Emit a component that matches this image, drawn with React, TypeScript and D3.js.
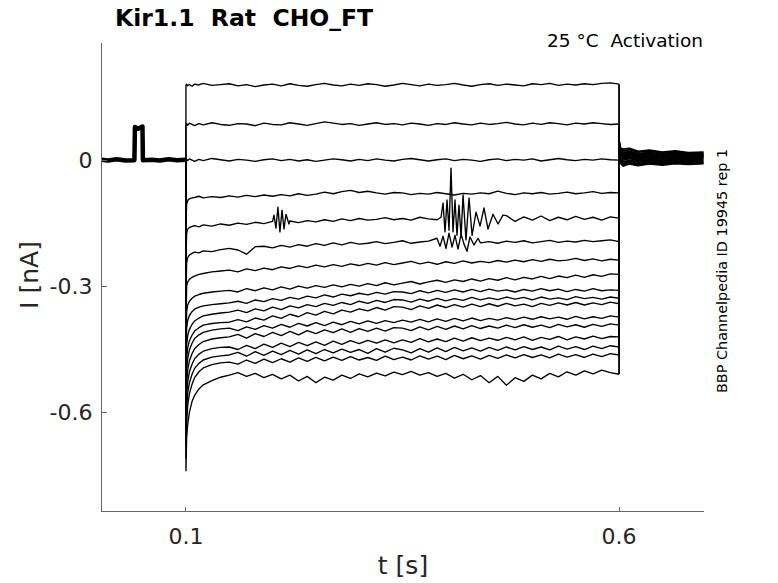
import * as d3 from "d3"

// sample times of the voltage step (s)
const stepT = [
  0.1, 0.1008, 0.102, 0.104, 0.107, 0.11, 0.115, 0.12, 0.13, 0.14,
  0.15, 0.16, 0.17, 0.18, 0.19, 0.2, 0.21, 0.22, 0.23, 0.24,
  0.25, 0.26, 0.27, 0.28, 0.29, 0.3, 0.31, 0.32, 0.33, 0.34,
  0.35, 0.36, 0.37, 0.38, 0.39, 0.4, 0.41, 0.42, 0.43, 0.44,
  0.45, 0.46, 0.47, 0.48, 0.49, 0.5, 0.51, 0.52, 0.53, 0.54,
  0.55, 0.56, 0.57, 0.58, 0.59, 0.6,
]

// currents during the step (nA), one array per sweep, top to bottom
const sweep1 = [0.178,0.181,0.177,0.180,0.176,0.181,0.179,0.183,0.178,0.180,0.182,0.177,0.180,0.175,0.179,0.181,0.177,0.182,0.178,0.176,0.180,0.183,0.179,0.177,0.181,0.178,0.182,0.180,0.176,0.179,0.183,0.180,0.177,0.181,0.178,0.180,0.183,0.179,0.176,0.180,0.182,0.178,0.181,0.179,0.177,0.182,0.180,0.183,0.178,0.181,0.179,0.182,0.180,0.183,0.184,0.181]
const sweep2 = [0.084,0.087,0.083,0.088,0.085,0.082,0.087,0.084,0.089,0.085,0.083,0.087,0.086,0.082,0.088,0.085,0.084,0.089,0.086,0.083,0.087,0.091,0.088,0.085,0.087,0.083,0.086,0.089,0.085,0.087,0.084,0.088,0.086,0.083,0.087,0.085,0.089,0.086,0.084,0.088,0.085,0.087,0.090,0.086,0.084,0.088,0.085,0.089,0.087,0.084,0.088,0.086,0.089,0.087,0.085,0.086]
const sweep3 = [-0.002,0.002,-0.001,0.003,0.000,-0.003,0.002,-0.001,0.004,0.001,-0.002,0.002,0.000,-0.003,0.001,0.003,-0.001,0.002,-0.002,0.001,-0.003,0.000,0.003,0.001,-0.002,0.002,-0.001,0.003,0.000,-0.002,0.002,0.004,0.001,-0.002,0.001,0.003,-0.001,0.002,0.000,-0.003,0.001,0.003,-0.001,0.002,0.000,0.003,-0.002,0.001,0.004,0.001,-0.001,0.002,0.000,0.003,0.001,0.000]
const sweep4 = [-0.150,-0.105,-0.096,-0.092,-0.090,-0.089,-0.086,-0.090,-0.087,-0.089,-0.085,-0.088,-0.084,-0.087,-0.083,-0.086,-0.082,-0.085,-0.080,-0.084,-0.081,-0.076,-0.080,-0.075,-0.072,-0.077,-0.074,-0.078,-0.081,-0.077,-0.078,-0.082,-0.079,-0.081,-0.077,-0.080,-0.083,-0.079,-0.081,-0.078,-0.080,-0.074,-0.079,-0.082,-0.078,-0.080,-0.077,-0.081,-0.079,-0.076,-0.080,-0.078,-0.075,-0.079,-0.077,-0.078]
const sweep5 = [-0.240,-0.175,-0.165,-0.160,-0.158,-0.156,-0.159,-0.154,-0.157,-0.152,-0.155,-0.150,-0.153,-0.148,-0.151,-0.146,-0.150,-0.145,-0.149,-0.144,-0.147,-0.142,-0.146,-0.140,-0.144,-0.139,-0.143,-0.141,-0.137,-0.142,-0.139,-0.143,-0.136,-0.140,-0.142,-0.138,-0.141,-0.136,-0.143,-0.138,-0.134,-0.145,-0.132,-0.146,-0.135,-0.143,-0.133,-0.144,-0.136,-0.142,-0.134,-0.141,-0.136,-0.143,-0.135,-0.138]
const sweep6 = [-0.320,-0.245,-0.232,-0.226,-0.222,-0.219,-0.221,-0.216,-0.218,-0.213,-0.210,-0.214,-0.224,-0.206,-0.205,-0.209,-0.203,-0.207,-0.201,-0.205,-0.199,-0.203,-0.197,-0.202,-0.196,-0.200,-0.198,-0.194,-0.199,-0.196,-0.192,-0.198,-0.195,-0.193,-0.197,-0.194,-0.199,-0.195,-0.192,-0.197,-0.194,-0.198,-0.193,-0.196,-0.192,-0.197,-0.194,-0.191,-0.196,-0.193,-0.195,-0.191,-0.194,-0.192,-0.190,-0.194]
const sweep7 = [-0.400,-0.300,-0.290,-0.284,-0.279,-0.276,-0.272,-0.270,-0.266,-0.264,-0.262,-0.266,-0.259,-0.263,-0.257,-0.261,-0.254,-0.258,-0.252,-0.256,-0.250,-0.254,-0.249,-0.253,-0.247,-0.251,-0.246,-0.250,-0.244,-0.249,-0.245,-0.241,-0.247,-0.243,-0.248,-0.242,-0.246,-0.240,-0.245,-0.241,-0.244,-0.239,-0.243,-0.238,-0.242,-0.237,-0.241,-0.236,-0.240,-0.238,-0.234,-0.239,-0.235,-0.240,-0.236,-0.238]
const sweep8 = [-0.460,-0.360,-0.345,-0.336,-0.329,-0.324,-0.320,-0.317,-0.314,-0.312,-0.310,-0.314,-0.306,-0.311,-0.304,-0.309,-0.302,-0.307,-0.300,-0.305,-0.299,-0.303,-0.297,-0.302,-0.296,-0.300,-0.294,-0.299,-0.292,-0.297,-0.293,-0.289,-0.295,-0.290,-0.286,-0.291,-0.285,-0.289,-0.283,-0.288,-0.282,-0.286,-0.280,-0.285,-0.279,-0.283,-0.277,-0.282,-0.276,-0.280,-0.274,-0.279,-0.273,-0.277,-0.271,-0.272]
const sweep9 = [-0.500,-0.400,-0.382,-0.370,-0.361,-0.355,-0.350,-0.347,-0.344,-0.342,-0.340,-0.336,-0.341,-0.333,-0.337,-0.330,-0.334,-0.327,-0.331,-0.324,-0.328,-0.321,-0.326,-0.319,-0.323,-0.317,-0.321,-0.315,-0.319,-0.313,-0.314,-0.318,-0.311,-0.316,-0.310,-0.315,-0.309,-0.314,-0.308,-0.313,-0.307,-0.312,-0.309,-0.314,-0.308,-0.312,-0.306,-0.311,-0.307,-0.313,-0.308,-0.312,-0.306,-0.311,-0.309,-0.310]
const sweep10 = [-0.540,-0.440,-0.418,-0.403,-0.391,-0.383,-0.376,-0.371,-0.367,-0.364,-0.362,-0.357,-0.363,-0.354,-0.359,-0.350,-0.356,-0.347,-0.352,-0.344,-0.349,-0.341,-0.346,-0.339,-0.344,-0.336,-0.341,-0.334,-0.339,-0.332,-0.333,-0.338,-0.331,-0.336,-0.329,-0.335,-0.330,-0.334,-0.327,-0.333,-0.328,-0.332,-0.326,-0.331,-0.327,-0.333,-0.326,-0.331,-0.328,-0.332,-0.325,-0.330,-0.327,-0.331,-0.326,-0.329]
const sweep11 = [-0.570,-0.470,-0.447,-0.430,-0.417,-0.407,-0.399,-0.393,-0.389,-0.387,-0.386,-0.380,-0.385,-0.376,-0.381,-0.371,-0.377,-0.367,-0.373,-0.363,-0.369,-0.360,-0.366,-0.357,-0.362,-0.354,-0.359,-0.351,-0.357,-0.349,-0.350,-0.356,-0.347,-0.353,-0.345,-0.351,-0.344,-0.350,-0.343,-0.349,-0.342,-0.348,-0.341,-0.347,-0.343,-0.349,-0.341,-0.346,-0.340,-0.345,-0.339,-0.345,-0.340,-0.344,-0.338,-0.342]
const sweep12 = [-0.600,-0.500,-0.472,-0.452,-0.436,-0.425,-0.416,-0.410,-0.405,-0.402,-0.400,-0.406,-0.397,-0.403,-0.394,-0.400,-0.391,-0.398,-0.389,-0.395,-0.387,-0.394,-0.386,-0.392,-0.384,-0.390,-0.383,-0.389,-0.382,-0.387,-0.381,-0.386,-0.379,-0.385,-0.378,-0.384,-0.377,-0.383,-0.376,-0.382,-0.377,-0.381,-0.375,-0.380,-0.374,-0.379,-0.373,-0.378,-0.374,-0.379,-0.372,-0.378,-0.373,-0.377,-0.371,-0.374]
const sweep13 = [-0.620,-0.530,-0.500,-0.478,-0.461,-0.449,-0.439,-0.432,-0.426,-0.423,-0.421,-0.415,-0.424,-0.413,-0.420,-0.410,-0.418,-0.408,-0.416,-0.406,-0.413,-0.404,-0.411,-0.402,-0.410,-0.401,-0.408,-0.400,-0.407,-0.399,-0.400,-0.406,-0.397,-0.404,-0.396,-0.403,-0.395,-0.402,-0.394,-0.401,-0.395,-0.400,-0.393,-0.399,-0.392,-0.398,-0.393,-0.399,-0.391,-0.397,-0.392,-0.398,-0.391,-0.396,-0.390,-0.393]
const sweep14 = [-0.650,-0.560,-0.528,-0.504,-0.486,-0.473,-0.462,-0.455,-0.449,-0.446,-0.445,-0.451,-0.441,-0.449,-0.438,-0.446,-0.436,-0.444,-0.434,-0.442,-0.433,-0.441,-0.431,-0.439,-0.430,-0.437,-0.429,-0.436,-0.428,-0.435,-0.428,-0.434,-0.425,-0.433,-0.426,-0.432,-0.424,-0.431,-0.423,-0.430,-0.424,-0.429,-0.422,-0.428,-0.421,-0.429,-0.422,-0.427,-0.420,-0.428,-0.421,-0.426,-0.419,-0.425,-0.420,-0.421]
const sweep15 = [-0.680,-0.590,-0.555,-0.530,-0.510,-0.496,-0.484,-0.476,-0.469,-0.466,-0.464,-0.458,-0.467,-0.456,-0.465,-0.455,-0.463,-0.453,-0.462,-0.452,-0.461,-0.451,-0.459,-0.450,-0.458,-0.451,-0.460,-0.449,-0.457,-0.448,-0.452,-0.459,-0.449,-0.457,-0.447,-0.456,-0.446,-0.454,-0.447,-0.455,-0.446,-0.453,-0.445,-0.452,-0.444,-0.451,-0.445,-0.452,-0.443,-0.450,-0.444,-0.451,-0.443,-0.449,-0.442,-0.445]
const sweep16 = [-0.710,-0.625,-0.585,-0.556,-0.534,-0.518,-0.504,-0.495,-0.487,-0.483,-0.481,-0.486,-0.476,-0.484,-0.474,-0.482,-0.473,-0.481,-0.471,-0.479,-0.470,-0.478,-0.469,-0.477,-0.468,-0.476,-0.470,-0.477,-0.467,-0.475,-0.469,-0.476,-0.466,-0.474,-0.467,-0.475,-0.465,-0.473,-0.466,-0.474,-0.465,-0.472,-0.464,-0.471,-0.463,-0.470,-0.464,-0.471,-0.462,-0.469,-0.463,-0.470,-0.462,-0.468,-0.461,-0.464]
const sweep17 = [-0.740,-0.660,-0.630,-0.600,-0.575,-0.560,-0.545,-0.535,-0.525,-0.517,-0.512,-0.506,-0.515,-0.508,-0.518,-0.510,-0.521,-0.512,-0.526,-0.515,-0.530,-0.517,-0.524,-0.512,-0.520,-0.509,-0.516,-0.507,-0.514,-0.505,-0.511,-0.503,-0.512,-0.506,-0.515,-0.508,-0.519,-0.510,-0.523,-0.513,-0.530,-0.515,-0.536,-0.518,-0.527,-0.512,-0.521,-0.508,-0.516,-0.504,-0.512,-0.502,-0.509,-0.500,-0.506,-0.510]

// bursts of ringing on sweeps 5 and 6
const burst5aT = [0.2016, 0.2039, 0.2062, 0.2085, 0.2109, 0.2132, 0.2155, 0.2189]
const burst5aI = [-0.131, -0.162, -0.112, -0.171, -0.119, -0.164, -0.129, -0.152]
const burst5bT = [0.3945, 0.3968, 0.3991, 0.4014, 0.4037, 0.406, 0.4083, 0.4106, 0.4129, 0.4152, 0.4176, 0.4199, 0.4233, 0.4268, 0.4303, 0.4349, 0.4395, 0.4441, 0.4487, 0.4545, 0.4603, 0.466]
const burst5bI = [-0.136, -0.102, -0.171, -0.095, -0.167, -0.019, -0.171, -0.095, -0.179, -0.107, -0.183, -0.083, -0.19, -0.09, -0.179, -0.124, -0.157, -0.114, -0.164, -0.129, -0.152, -0.131]
const burst6T = [0.3898, 0.3933, 0.3968, 0.4002, 0.4037, 0.4072, 0.4106, 0.4141, 0.4176, 0.421, 0.4245, 0.4279, 0.4326, 0.4372]
const burst6I = [-0.186, -0.205, -0.181, -0.21, -0.174, -0.207, -0.179, -0.212, -0.176, -0.2, -0.217, -0.183, -0.202, -0.186]

// holding level and test pulse before the step
const preT = [0.0025, 0.01, 0.02, 0.03, 0.0405, 0.0411, 0.045, 0.0498, 0.0503, 0.06, 0.07, 0.08, 0.09, 0.1]
const preI = [0.001, -0.001, 0.002, -0.001, 0.0, 0.079, 0.075, 0.080, 0.0, 0.001, -0.001, 0.002, 0.0, 0.001]

// after the step
const tailT = [0.6, 0.601, 0.605, 0.612, 0.622, 0.635, 0.65, 0.665, 0.68, 0.6975]
const tail1 = [0.030,0.022,0.018,0.020,0.015,0.017,0.013,0.016,0.012,0.014]
const tail2 = [0.025,0.012,0.015,0.010,0.013,0.009,0.012,0.010,0.013,0.011]
const tail3 = [0.020,0.006,0.010,0.005,0.008,0.004,0.007,0.005,0.008,0.006]
const tail4 = [0.035,0.015,0.008,0.012,0.006,0.010,0.005,0.009,0.006,0.008]
const tail5 = [0.040,0.020,0.012,0.016,0.009,0.014,0.008,0.012,0.009,0.011]
const tail6 = [0.045,0.010,0.002,0.006,0.000,0.004,-0.001,0.003,0.001,0.002]
const tail7 = [0.045,0.024,0.018,0.021,0.015,0.019,0.013,0.017,0.014,0.015]
const tail8 = [0.042,0.004,-0.004,0.000,-0.005,-0.001,-0.006,-0.002,-0.004,-0.003]
const tail9 = [0.048,0.028,0.022,0.025,0.019,0.022,0.017,0.020,0.016,0.018]
const tail10 = [0.046,0.008,0.000,0.004,-0.002,0.002,-0.003,0.001,-0.001,0.000]
const tail11 = [0.044,0.016,0.010,0.013,0.007,0.011,0.006,0.010,0.007,0.009]
const tail12 = [0.040,-0.002,-0.010,-0.006,-0.011,-0.007,-0.010,-0.006,-0.008,-0.007]
const tail13 = [0.047,0.030,0.026,0.028,0.021,0.024,0.019,0.022,0.018,0.019]
const tail14 = [0.043,0.000,-0.008,-0.003,-0.009,-0.004,-0.008,-0.005,-0.007,-0.005]
const tail15 = [0.045,0.012,0.005,0.009,0.003,0.007,0.002,0.006,0.003,0.005]
const tail16 = [0.041,-0.006,-0.014,-0.009,-0.013,-0.009,-0.012,-0.008,-0.010,-0.008]
const tail17 = [0.048,0.020,0.014,0.018,0.011,0.015,0.010,0.014,0.011,0.013]

const xTicks = [0.1, 0.6]
const xTickLabels = ["0.1", "0.6"]
const yTicks = [0, -0.3, -0.6]
const yTickLabels = ["0", "-0.3", "-0.6"]

const sweeps = [sweep1, sweep2, sweep3, sweep4, sweep5, sweep6, sweep7, sweep8, sweep9, sweep10, sweep11, sweep12, sweep13, sweep14, sweep15, sweep16, sweep17]
const tails = [tail1, tail2, tail3, tail4, tail5, tail6, tail7, tail8, tail9, tail10, tail11, tail12, tail13, tail14, tail15, tail16, tail17]
const bursts: { [k: number]: [number[], number[]][] } = {
  4: [[burst5aT, burst5aI], [burst5bT, burst5bI]],
  5: [[burst6T, burst6I]],
}

const W = 778
const H = 583
const font = "DejaVu Sans, Verdana, sans-serif"

export default function App() {
  const x = d3.scaleLinear().domain([0.0025, 0.6975]).range([101.5, 703.5])
  const y = d3.scaleLinear().domain([-0.838, 0.279]).range([512, 43])

  const line = d3
    .line<[number, number]>()
    .x((d) => x(d[0]))
    .y((d) => y(d[1]))

  // step part of every sweep, starting from the holding level at t = 0.1
  const stepPoints = sweeps.map((vals, k) => {
    let pts: [number, number][] = stepT.map((t, i) => [t, vals[i]])
    const extra = bursts[k] || []
    extra.forEach(([bt, bi]) => {
      const lo = bt[0]
      const hi = bt[bt.length - 1]
      pts = pts.filter((p) => p[0] < lo || p[0] > hi)
      bt.forEach((t, i) => pts.push([t, bi[i]]))
    })
    pts.sort((a, b) => a[0] - b[0])
    return [[0.1, 0] as [number, number], ...pts]
  })

  // tail part, starting where the step part ends
  const tailPoints = sweeps.map((vals, k) => {
    const tail: [number, number][] = tailT.map((t, i) => [t, tails[k][i]])
    return [[0.6, vals[vals.length - 1]] as [number, number], ...tail]
  })

  const prePoints: [number, number][] = preT.map((t, i) => [t, preI[i]])

  return (
    <div style={{ position: "absolute", left: 0, top: 0 }}>
      <svg width={W} height={H} style={{ display: "block", background: "#fff" }}>
        <g fill="none" stroke="#000" strokeLinejoin="round">
          <path d={line(prePoints) || ""} strokeWidth={4.5} />
          {stepPoints.map((pts, i) => (
            <path key={"s" + i} d={line(pts) || ""} strokeWidth={1.35} />
          ))}
          {tailPoints.map((pts, i) => (
            <path key={"t" + i} d={line(pts) || ""} strokeWidth={1.8} />
          ))}
        </g>

        {/* axes */}
        <g stroke="#666" strokeWidth={1} shapeRendering="crispEdges">
          <line x1={101.5} x2={101.5} y1={43} y2={512} />
          <line x1={101} x2={704} y1={511.5} y2={511.5} />
          {yTicks.map((v) => (
            <line key={v} x1={101.5} x2={106.5} y1={y(v)} y2={y(v)} />
          ))}
          {xTicks.map((v) => (
            <line key={v} x1={x(v)} x2={x(v)} y1={512} y2={507} />
          ))}
        </g>

        <g fontFamily={font} fill="#262626" fontSize={22}>
          {yTicks.map((v, i) => (
            <text key={v} x={92.5} y={y(v) + 8} textAnchor="end">
              {yTickLabels[i]}
            </text>
          ))}
          {xTicks.map((v, i) => (
            <text key={v} x={x(v)} y={544} textAnchor="middle">
              {xTickLabels[i]}
            </text>
          ))}
          <text x={403} y={574} textAnchor="middle" fontSize={25}>
            t [s]
          </text>
          <text transform="translate(38,275) rotate(-90)" textAnchor="middle" fontSize={25}>
            I [nA]
          </text>
        </g>

        <text x={115} y={26} fontFamily={font} fontWeight="bold" fontSize={23.5} fill="#000" style={{ whiteSpace: "pre" }}>
          {"Kir1.1  Rat  CHO_FT"}
        </text>
        <text x={703} y={47} fontFamily={font} fontSize={18.5} fill="#000" textAnchor="end" style={{ whiteSpace: "pre" }}>
          {"25 °C  Activation"}
        </text>
        <text transform="translate(727,393) rotate(-90)" fontFamily={font} fontSize={14.4} fill="#000">
          BBP Channelpedia ID 19945 rep 1
        </text>
      </svg>
    </div>
  )
}
